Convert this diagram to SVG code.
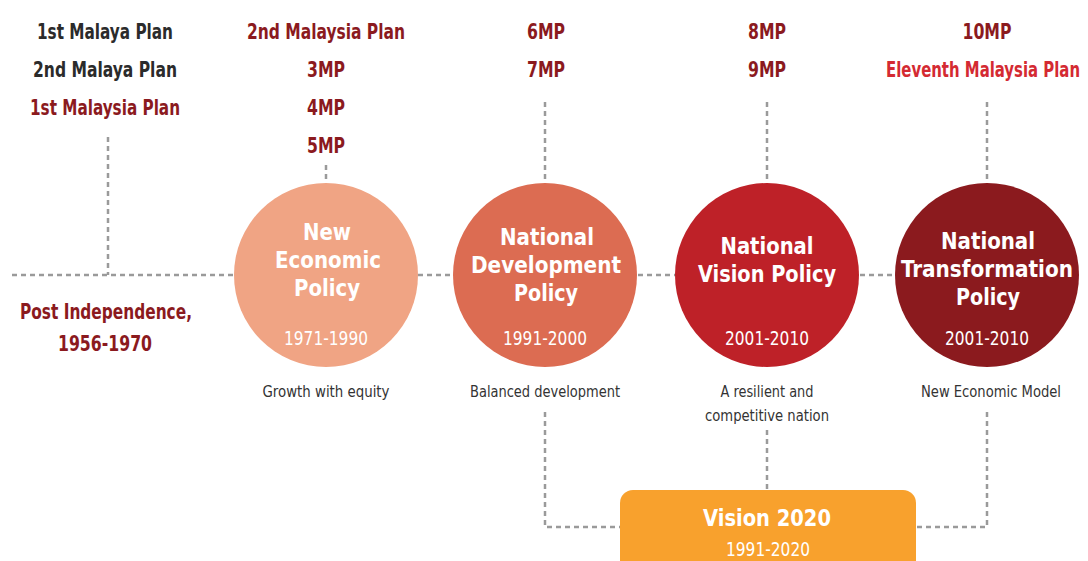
<svg xmlns="http://www.w3.org/2000/svg" width="1088" height="561" viewBox="0 0 1088 561">
<style>
text{font-family:"DejaVu Sans Condensed","Liberation Sans",sans-serif;text-anchor:middle;font-stretch:condensed}
.plan{font-size:21px;font-weight:bold}
.gray{fill:#2b2b2b}
.dred{fill:#8b1a1e}
.bred{fill:#d42a32}
.title{font-size:23px;font-weight:bold;fill:#ffffff}
.date{font-size:19px;fill:#ffffff}
.cap{font-size:16px;fill:#333333}
.dash{fill:none;stroke:#9a9a9a;stroke-width:2.5;stroke-dasharray:5 4}
</style>
<rect width="1088" height="561" fill="#ffffff"/>
<g id="connectors">
<path class="dash" d="M12 275H235M418 275H453M638 275H675M860 275H894"/>
<path class="dash" d="M108 137V275"/>
<path class="dash" d="M326 165V183"/>
<path class="dash" d="M545 102V183"/>
<path class="dash" d="M767 102V183"/>
<path class="dash" d="M987 102V183"/>
<path class="dash" d="M545 412V527H620"/>
<path class="dash" d="M767 430V490"/>
<path class="dash" d="M987 412V527H916"/>
</g>
<g id="plans-1">
<text class="plan gray" x="105" y="39" textLength="136" lengthAdjust="spacingAndGlyphs">1st Malaya Plan</text>
<text class="plan gray" x="105" y="77" textLength="144" lengthAdjust="spacingAndGlyphs">2nd Malaya Plan</text>
<text class="plan dred" x="105" y="115" textLength="150" lengthAdjust="spacingAndGlyphs">1st Malaysia Plan</text>
</g>
<g id="plans-2">
<text class="plan dred" x="326" y="39" textLength="158" lengthAdjust="spacingAndGlyphs">2nd Malaysia Plan</text>
<text class="plan dred" x="326" y="77" textLength="38" lengthAdjust="spacingAndGlyphs">3MP</text>
<text class="plan dred" x="326" y="115" textLength="38" lengthAdjust="spacingAndGlyphs">4MP</text>
<text class="plan dred" x="326" y="153" textLength="38" lengthAdjust="spacingAndGlyphs">5MP</text>
</g>
<g id="plans-3">
<text class="plan dred" x="546" y="39" textLength="38" lengthAdjust="spacingAndGlyphs">6MP</text>
<text class="plan dred" x="546" y="77" textLength="38" lengthAdjust="spacingAndGlyphs">7MP</text>
</g>
<g id="plans-4">
<text class="plan dred" x="767" y="39" textLength="38" lengthAdjust="spacingAndGlyphs">8MP</text>
<text class="plan dred" x="767" y="77" textLength="38" lengthAdjust="spacingAndGlyphs">9MP</text>
</g>
<g id="plans-5">
<text class="plan dred" x="987" y="39" textLength="49" lengthAdjust="spacingAndGlyphs">10MP</text>
<text class="plan bred" x="1080" y="77" style="text-anchor:end" textLength="194" lengthAdjust="spacingAndGlyphs">Eleventh Malaysia Plan</text>
</g>
<g id="post-independence">
<text class="plan dred" x="106" y="319" textLength="172" lengthAdjust="spacingAndGlyphs">Post Independence,</text>
<text class="plan dred" x="105" y="351" textLength="94" lengthAdjust="spacingAndGlyphs">1956-1970</text>
</g>
<g id="nep">
<circle cx="326" cy="275" r="92" fill="#f0a484"/>
<text class="title" x="327" y="240" textLength="48" lengthAdjust="spacingAndGlyphs">New</text>
<text class="title" x="328" y="268" textLength="106" lengthAdjust="spacingAndGlyphs">Economic</text>
<text class="title" x="327" y="296" textLength="66" lengthAdjust="spacingAndGlyphs">Policy</text>
<text class="date" x="326" y="345" textLength="84" lengthAdjust="spacingAndGlyphs">1971-1990</text>
<text class="cap" x="326" y="397" textLength="127" lengthAdjust="spacingAndGlyphs">Growth with equity</text>
</g>
<g id="ndp">
<circle cx="545" cy="275" r="92" fill="#dc6c52"/>
<text class="title" x="547" y="245" textLength="94" lengthAdjust="spacingAndGlyphs">National</text>
<text class="title" x="546" y="273" textLength="150" lengthAdjust="spacingAndGlyphs">Development</text>
<text class="title" x="546" y="301" textLength="64" lengthAdjust="spacingAndGlyphs">Policy</text>
<text class="date" x="545" y="345" textLength="84" lengthAdjust="spacingAndGlyphs">1991-2000</text>
<text class="cap" x="545" y="397" textLength="150" lengthAdjust="spacingAndGlyphs">Balanced development</text>
</g>
<g id="nvp">
<circle cx="767" cy="275" r="92" fill="#be2128"/>
<text class="title" x="767" y="254" textLength="93" lengthAdjust="spacingAndGlyphs">National</text>
<text class="title" x="767" y="282" textLength="138" lengthAdjust="spacingAndGlyphs">Vision Policy</text>
<text class="date" x="767" y="345" textLength="84" lengthAdjust="spacingAndGlyphs">2001-2010</text>
<text class="cap" x="767" y="397" textLength="93" lengthAdjust="spacingAndGlyphs">A resilient and</text>
<text class="cap" x="767" y="421" textLength="124" lengthAdjust="spacingAndGlyphs">competitive nation</text>
</g>
<g id="ntp">
<circle cx="987" cy="275" r="92" fill="#8b1a1e"/>
<text class="title" x="988" y="249" textLength="94" lengthAdjust="spacingAndGlyphs">National</text>
<text class="title" x="987" y="277" textLength="172" lengthAdjust="spacingAndGlyphs">Transformation</text>
<text class="title" x="988" y="305" textLength="64" lengthAdjust="spacingAndGlyphs">Policy</text>
<text class="date" x="987" y="345" textLength="84" lengthAdjust="spacingAndGlyphs">2001-2010</text>
<text class="cap" x="991" y="397" textLength="140" lengthAdjust="spacingAndGlyphs">New Economic Model</text>
</g>
<g id="vision2020">
<rect x="620" y="490" width="296" height="90" rx="13" fill="#f8a12d"/>
<text class="title" x="767" y="526" textLength="128" lengthAdjust="spacingAndGlyphs">Vision 2020</text>
<text class="date" x="768" y="556" textLength="84" lengthAdjust="spacingAndGlyphs">1991-2020</text>
</g>
</svg>
